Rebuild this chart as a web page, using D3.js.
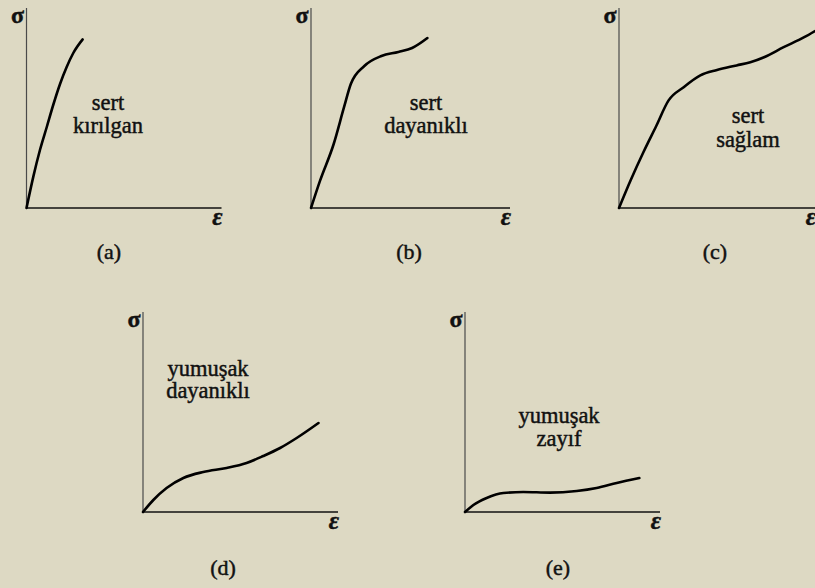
<!DOCTYPE html>
<html>
<head>
<meta charset="utf-8">
<script src="https://cdn.jsdelivr.net/npm/d3@7"></script>
<style>
  html, body { margin: 0; padding: 0; background: #DDD9C3; }
  svg { display: block; }
</style>
</head>
<body>
<svg id="chart" width="815" height="588"></svg>
<script>
// Panel captions and the two-line material description inside each panel
const panelTitles = ["(a)", "(b)", "(c)", "(d)", "(e)"];
const panelLabels = [
  ["sert", "kırılgan"],
  ["sert", "dayanıklı"],
  ["sert", "sağlam"],
  ["yumuşak", "dayanıklı"],
  ["yumuşak", "zayıf"]
];
const axisLabelX = "ε";
const axisLabelY = "σ";

// Stress–strain curves (normalised strain, normalised stress)
const strainA = [0, 0.035, 0.069, 0.104, 0.137, 0.172, 0.206, 0.240, 0.288];
const stressA = [0, 0.157, 0.290, 0.405, 0.515, 0.620, 0.705, 0.775, 0.843];

const strainB = [0, 0.046, 0.114, 0.166, 0.200, 0.268, 0.354, 0.439, 0.508, 0.585];
const stressB = [0, 0.138, 0.320, 0.504, 0.620, 0.710, 0.760, 0.780, 0.800, 0.850];

const strainC = [0, 0.060, 0.125, 0.190, 0.253, 0.330, 0.415, 0.500, 0.600, 0.670, 0.740, 0.840, 0.945, 1.0];
const stressC = [0, 0.140, 0.280, 0.410, 0.538, 0.604, 0.663, 0.690, 0.713, 0.729, 0.754, 0.804, 0.854, 0.885];

const strainD = [0, 0.053, 0.121, 0.207, 0.309, 0.429, 0.531, 0.617, 0.703, 0.788, 0.900];
const stressD = [0, 0.060, 0.120, 0.170, 0.200, 0.220, 0.245, 0.280, 0.320, 0.370, 0.445];

const strainE = [0, 0.043, 0.111, 0.197, 0.299, 0.436, 0.573, 0.675, 0.778, 0.894];
const stressE = [0, 0.035, 0.070, 0.095, 0.100, 0.097, 0.105, 0.120, 0.145, 0.170];

const strains = [strainA, strainB, strainC, strainD, strainE];
const stresses = [stressA, stressB, stressC, stressD, stressE];

// Placement of each panel's axes origin and caption/label anchors
const layout = [
  { x0: 26.5, y0: 208, w: 195, h: 200, labelX: 108, labelY: 110, lineGap: 22.5, titleX: 109, titleY: 259 },
  { x0: 311,  y0: 208, w: 199, h: 200, labelX: 426, labelY: 110, lineGap: 22.5, titleX: 409, titleY: 259 },
  { x0: 619,  y0: 208, w: 196, h: 200, labelX: 748, labelY: 123, lineGap: 23.5, titleX: 715, titleY: 259 },
  { x0: 143,  y0: 512, w: 195, h: 200, labelX: 208, labelY: 376, lineGap: 22,   titleX: 223, titleY: 575 },
  { x0: 465,  y0: 512, w: 195, h: 200, labelX: 559, labelY: 423, lineGap: 22.5, titleX: 558, titleY: 575 }
];

// Pick the first installed serif face by comparing measured widths
function pickSerif() {
  const ctx = document.createElement("canvas").getContext("2d");
  const probe = "kırılgan dayanıklı WMmwil 0123";
  const widthWith = f => { ctx.font = "72px " + f; return ctx.measureText(probe).width; };
  const base = ["monospace", "sans-serif"].map(widthWith);
  const candidates = [
    "Liberation Serif", "Tinos", "Times New Roman", "Times", "DejaVu Serif",
    "Noto Serif", "FreeSerif", "Nimbus Roman", "Nimbus Roman No9 L", "P052",
    "C059", "Century Schoolbook L", "Georgia", "Bitstream Charter",
    "Gentium", "Linux Libertine O", "Noto Serif CJK SC", "Noto Serif CJK JP"
  ];
  for (const c of candidates) {
    const w1 = widthWith("'" + c + "', monospace");
    const w2 = widthWith("'" + c + "', sans-serif");
    if (w1 !== base[0] || w2 !== base[1]) return "'" + c + "', serif";
  }
  return "serif";
}
const serif = pickSerif();

const svg = d3.select("#chart");

// shared look for the printed-style lettering
function ink(sel, size) {
  return sel
    .style("font-family", serif)
    .style("font-size", size + "px")
    .attr("fill", "#111")
    .attr("stroke", "#111")
    .attr("stroke-width", 0.45)
    .attr("paint-order", "stroke");
}

layout.forEach((p, i) => {
  const x = d3.scaleLinear().domain([0, 1]).range([p.x0, p.x0 + p.w]);
  const y = d3.scaleLinear().domain([0, 1]).range([p.y0, p.y0 - p.h]);
  const g = svg.append("g");

  // stress axis (vertical)
  g.append("line")
    .attr("x1", x(0)).attr("x2", x(0))
    .attr("y1", y(0)).attr("y2", y(1))
    .attr("stroke", "#4a4a4a").attr("stroke-width", 1.2);

  // strain axis (horizontal)
  g.append("line")
    .attr("x1", x(0)).attr("x2", x(1))
    .attr("y1", y(0)).attr("y2", y(0))
    .attr("stroke", "#111").attr("stroke-width", 1.4);

  // curve
  const pts = strains[i].map((s, k) => [s, stresses[i][k]]);
  const line = d3.line()
    .x(d => x(d[0]))
    .y(d => y(d[1]))
    .curve(d3.curveMonotoneX);
  g.append("path")
    .attr("d", line(pts))
    .attr("fill", "none")
    .attr("stroke", "#000")
    .attr("stroke-width", 2.6)
    .attr("stroke-linecap", "round")
    .attr("stroke-linejoin", "round");

  // axis symbols
  ink(g.append("text"), 24)
    .attr("x", x(0) - 9).attr("y", y(1) + 15)
    .attr("text-anchor", "middle")
    .style("font-weight", "bold")
    .text(axisLabelY);
  ink(g.append("text"), 25)
    .attr("x", x(1) - 4).attr("y", y(0) + 17)
    .attr("text-anchor", "middle")
    .style("font-weight", "bold").style("font-style", "italic")
    .text(axisLabelX);

  // material description, two lines in one text block
  const desc = ink(g.append("text"), 22.5)
    .attr("text-anchor", "middle");
  panelLabels[i].forEach((t, k) => {
    desc.append("tspan")
      .attr("x", p.labelX)
      .attr("y", p.labelY + k * p.lineGap)
      .text(t);
  });

  // caption
  ink(g.append("text"), 22)
    .attr("x", p.titleX).attr("y", p.titleY)
    .attr("text-anchor", "middle")
    .text(panelTitles[i]);
});
</script>
</body>
</html>
